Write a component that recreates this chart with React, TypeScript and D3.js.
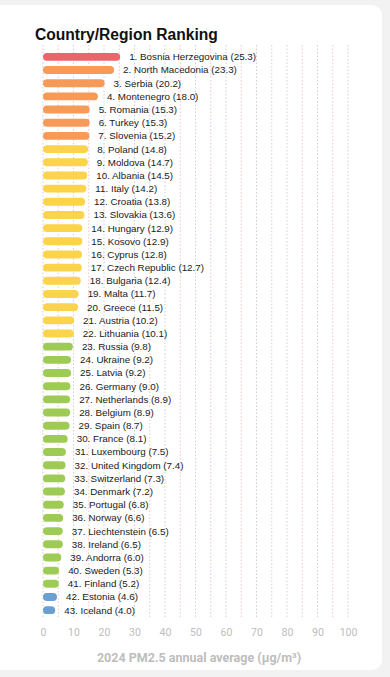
import React, { useEffect, useRef } from 'react';
import { axisBottom, range, scaleBand, scaleLinear, scaleThreshold, select } from 'd3';

const countries = [
  'Bosnia Herzegovina', 'North Macedonia', 'Serbia', 'Montenegro', 'Romania',
  'Turkey', 'Slovenia', 'Poland', 'Moldova', 'Albania', 'Italy', 'Croatia',
  'Slovakia', 'Hungary', 'Kosovo', 'Cyprus', 'Czech Republic', 'Bulgaria',
  'Malta', 'Greece', 'Austria', 'Lithuania', 'Russia', 'Ukraine', 'Latvia',
  'Germany', 'Netherlands', 'Belgium', 'Spain', 'France', 'Luxembourg',
  'United Kingdom', 'Switzerland', 'Denmark', 'Portugal', 'Norway',
  'Liechtenstein', 'Ireland', 'Andorra', 'Sweden', 'Finland', 'Estonia', 'Iceland',
];
const pm25 = [
  25.3, 23.3, 20.2, 18.0, 15.3, 15.3, 15.2, 14.8, 14.7, 14.5, 14.2, 13.8,
  13.6, 12.9, 12.9, 12.8, 12.7, 12.4, 11.7, 11.5, 10.2, 10.1, 9.8, 9.2, 9.2,
  9.0, 8.9, 8.9, 8.7, 8.1, 7.5, 7.4, 7.3, 7.2, 6.8, 6.6, 6.5, 6.5, 6.0, 5.3,
  5.2, 4.6, 4.0,
];
const ticks = [0, 10, 20, 30, 40, 50, 60, 70, 80, 90, 100];
const levels = [5, 10, 15, 25];
const levelColors = ['#6b9fd3', '#9ecb55', '#fcd44c', '#f59a58', '#ec656b'];

const W = 390;
const H = 677;

const App = () => {
  const svgRef = useRef(null);

  useEffect(() => {
    const svg: any = select(svgRef.current);
    svg.selectAll('*').remove();

    const x = scaleLinear().domain([0, 100]).range([43, 348]);
    const y = scaleBand<number>()
      .domain(range(countries.length))
      .range([47.65, 619.35])
      .padding(0.4);
    const color = scaleThreshold<number, string>().domain(levels).range(levelColors);

    svg.append('rect').attr('width', W).attr('height', H).attr('fill', '#f2f2f3');
    svg
      .append('rect')
      .attr('x', -12)
      .attr('y', 5)
      .attr('width', 394)
      .attr('height', 665)
      .attr('rx', 10)
      .attr('fill', '#ffffff');

    svg
      .append('text')
      .attr('x', 35)
      .attr('y', 40)
      .attr('font-family', 'Liberation Sans, Arial, sans-serif')
      .attr('font-weight', 'bold')
      .attr('font-size', 15.6)
      .attr('fill', '#111')
      .text('Country/Region Ranking');

    // grid
    const grid = svg.append('g');
    grid
      .selectAll('line')
      .data(range(0, 101, 5))
      .join('line')
      .attr('x1', (d: number) => x(d))
      .attr('x2', (d: number) => x(d))
      .attr('y1', 45)
      .attr('y2', 619)
      .attr('stroke', (d: number) => (d % 10 === 0 ? '#cfcfcf' : '#f3c4c7'))
      .attr('stroke-width', 1)
      .attr('stroke-dasharray', '1.5,2');

    // bars
    svg
      .append('g')
      .selectAll('rect')
      .data(pm25)
      .join('rect')
      .attr('x', x(0))
      .attr('y', (_: number, i: number) => y(i))
      .attr('width', (d: number) => x(d) - x(0))
      .attr('height', y.bandwidth())
      .attr('rx', y.bandwidth() / 2)
      .attr('fill', (d: number) => color(d));

    svg
      .append('g')
      .selectAll('text')
      .data(pm25)
      .join('text')
      .attr('x', (d: number) => x(d) + 9)
      .attr('y', (_: number, i: number) => (y(i) as number) + y.bandwidth() / 2)
      .attr('dy', '0.35em')
      .attr('font-family', 'Liberation Sans, Arial, sans-serif')
      .attr('font-size', 9.8)
      .attr('fill', '#1a1a1a')
      .text((d: number, i: number) => `${i + 1}. ${countries[i]} (${d.toFixed(1)})`);

    // axis
    const xAxis = axisBottom(x).tickValues(ticks).tickSize(0).tickPadding(0);
    const ax = svg.append('g').attr('transform', 'translate(0,629)').call(xAxis);
    ax.select('.domain').remove();
    ax.selectAll('text')
      .attr('font-family', 'Roboto, sans-serif')
      .attr('font-size', 10.5)
      .attr('fill', '#bdbdbd');

    svg
      .append('text')
      .attr('x', 199)
      .attr('y', 662)
      .attr('text-anchor', 'middle')
      .attr('font-family', 'Roboto, sans-serif')
      .attr('font-weight', 'bold')
      .attr('font-size', 12.5)
      .attr('fill', '#bdbdbd')
      .text('2024 PM2.5 annual average (µg/m³)');
  }, []);

  return (
    <svg
      ref={svgRef}
      width={W}
      height={H}
      style={{ position: 'absolute', left: 0, top: 0, display: 'block' }}
    />
  );
};

export default App;
